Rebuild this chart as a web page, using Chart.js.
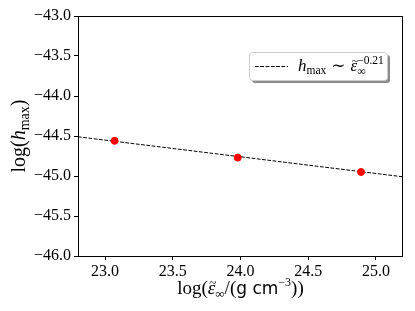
<!DOCTYPE html>
<html>
<head>
<meta charset="utf-8">
<script src="https://cdn.jsdelivr.net/npm/chart.js@4"></script>
<style>
  html, body { margin: 0; padding: 0; background: #fff; }
  #chartContainer { width: 415px; height: 311px; }
</style>
</head>
<body>
<div id="chartContainer"><canvas id="myChart" width="415" height="311"></canvas></div>
<script>
// data
const logEps = [23.07, 23.98, 24.89];
const logH = [-44.56, -44.77, -44.95];
const fitX = [22.8, 25.2];
const fitY = [-44.51, -45.01];
const xTicks = [23.0, 23.5, 24.0, 24.5, 25.0];
const yTicks = [-46.0, -45.5, -45.0, -44.5, -44.0, -43.5, -43.0];

const SERIF = '"Liberation Serif", "DejaVu Serif", serif';
const SANS = '"DejaVu Sans", sans-serif';

function fmt(v) {
    return (v < 0 ? '\u2212' : '') + Math.abs(v).toFixed(1);
}

// draws a row of text pieces (sub/superscripts, tilde accent)
function richWidth(ctx, parts) {
    let w = 0;
    parts.forEach(p => {
        ctx.font = (p.italic ? 'italic ' : '') + p.size + 'px ' + (p.family || SERIF);
        const pw = ctx.measureText(p.t).width;
        w += p.stay ? 0 : pw + (p.gap || 0);
    });
    return w;
}
function drawRich(ctx, parts, x, y) {
    ctx.textBaseline = 'alphabetic';
    ctx.textAlign = 'left';
    let last = 0;
    parts.forEach(p => {
        ctx.font = (p.italic ? 'italic ' : '') + p.size + 'px ' + (p.family || SERIF);
        const w = ctx.measureText(p.t).width;
        ctx.fillText(p.t, x, y + (p.dy || 0));
        if (p.tilde) {
            // small tilde sitting just above the letter
            ctx.save();
            ctx.font = p.size + 'px ' + SERIF;
            const tw = ctx.measureText('~').width;
            ctx.translate(x + w / 2 + p.size * 0.06, y - p.size * 0.36);
            ctx.scale(0.7, 0.7);
            ctx.fillText('~', -tw / 2, 0);
            ctx.restore();
        }
        if (p.stay) {
            last = w;
        } else {
            x += w + (p.gap || 0);
        }
    });
}

const decor = {
    id: 'decor',
    afterDraw(chart) {
        const ctx = chart.ctx;
        const a = chart.chartArea;
        ctx.save();
        ctx.fillStyle = '#000';

        // frame
        ctx.strokeStyle = '#000';
        ctx.lineWidth = 1;
        ctx.strokeRect(a.left + 0.5, a.top + 0.5, a.right - a.left - 1, a.bottom - a.top);

        // x title
        const xt = [
            { t: 'log(', size: 19 },
            { t: '\u03b5', size: 19, italic: true, tilde: true },
            { t: '\u221e', size: 13, dy: 4 },
            { t: '/(', size: 19 },
            { t: 'g cm', size: 17, family: SANS },
            { t: '\u22123', size: 12, dy: -8 },
            { t: '))', size: 19 }
        ];
        drawRich(ctx, xt, (a.left + a.right) / 2 - richWidth(ctx, xt) / 2, 294);

        // y title
        const yt = [
            { t: 'log(', size: 20 },
            { t: 'h', size: 20, italic: true },
            { t: 'max', size: 14, dy: 4 },
            { t: ')', size: 20 }
        ];
        ctx.save();
        ctx.translate(25, (a.top + a.bottom) / 2);
        ctx.rotate(-Math.PI / 2);
        drawRich(ctx, yt, -richWidth(ctx, yt) / 2, 0);
        ctx.restore();

        // legend with shadow
        const bx = 249, by = 52, bw = 138, bh = 28;
        ctx.fillStyle = '#8c8c8c';
        ctx.beginPath();
        ctx.roundRect(bx + 3, by + 3, bw, bh, 3);
        ctx.fill();
        ctx.fillStyle = '#fff';
        ctx.strokeStyle = '#cccccc';
        ctx.beginPath();
        ctx.roundRect(bx + 0.5, by + 0.5, bw, bh, 3);
        ctx.fill();
        ctx.stroke();
        ctx.strokeStyle = '#000';
        ctx.setLineDash([3.7, 1.6]);
        ctx.beginPath();
        ctx.moveTo(255, 66.5);
        ctx.lineTo(288, 66.5);
        ctx.stroke();
        ctx.setLineDash([]);
        ctx.fillStyle = '#000';
        drawRich(ctx, [
            { t: 'h', size: 17, italic: true },
            { t: 'max', size: 11.5, dy: 3, gap: 5 },
            { t: '\u223c', size: 17, gap: 5 },
            { t: '\u03b5', size: 17, italic: true, tilde: true },
            { t: '\u221e', size: 12, dy: 4, stay: true },
            { t: '\u22120.21', size: 11.5, dy: -7 }
        ], 298, 71);
        ctx.restore();
    }
};

const ctx = document.getElementById('myChart').getContext('2d');
new Chart(ctx, {
    type: 'scatter',
    data: {
        datasets: [{
            data: logEps.map((x, i) => ({ x: x, y: logH[i] })),
            backgroundColor: '#ff0000',
            borderColor: '#ff0000',
            pointRadius: 3.5,
            pointHoverRadius: 3.5,
            order: 0
        }, {
            data: fitX.map((x, i) => ({ x: x, y: fitY[i] })),
            showLine: true,
            borderColor: '#000',
            borderWidth: 1,
            borderDash: [3.7, 1.6],
            pointRadius: 0,
            order: 1
        }]
    },
    options: {
        responsive: false,
        animation: false,
        events: [],
        layout: { padding: { left: 0, top: 16, right: 12, bottom: 0 } },
        plugins: { legend: { display: false }, tooltip: { enabled: false } },
        scales: {
            x: {
                type: 'linear',
                min: 22.8,
                max: 25.2,
                afterBuildTicks: s => { s.ticks = xTicks.map(v => ({ value: v })); },
                afterFit: s => { s.height = 55; },
                grid: { drawOnChartArea: false, drawTicks: true, tickLength: 4, color: '#000' },
                border: { display: false },
                ticks: {
                    color: '#000',
                    padding: 2,
                    maxRotation: 0,
                    font: { family: SERIF, size: 16 },
                    callback: v => fmt(v)
                }
            },
            y: {
                type: 'linear',
                min: -46,
                max: -43,
                afterBuildTicks: s => { s.ticks = yTicks.map(v => ({ value: v })); },
                afterFit: s => { s.width = 78; },
                grid: { drawOnChartArea: false, drawTicks: true, tickLength: 4, color: '#000' },
                border: { display: false },
                ticks: {
                    color: '#000',
                    padding: 3,
                    font: { family: SERIF, size: 16 },
                    callback: v => fmt(v)
                }
            }
        }
    },
    plugins: [decor]
});
</script>
</body>
</html>
